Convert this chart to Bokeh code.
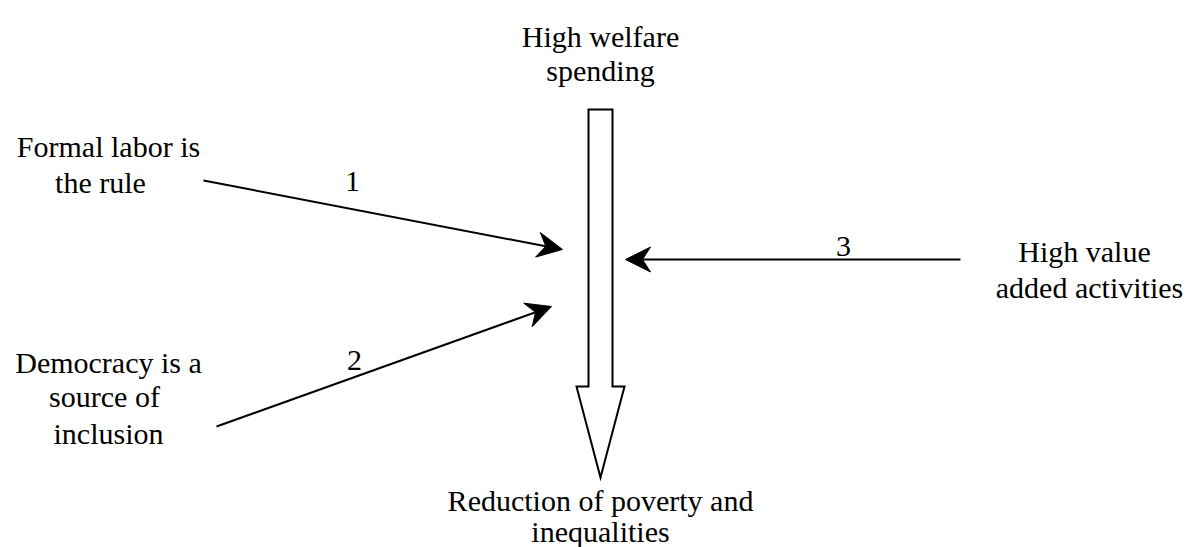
import math
from bokeh.plotting import figure
from bokeh.models import Range1d
from bokeh.core.properties import value
from bokeh.embed import file_html
from bokeh.resources import INLINE

# ---- content ----
node_lines = [
    "High welfare", "spending",
    "Formal labor is", "the rule",
    "Democracy is a", "source of", "inclusion",
    "High value", "added activities",
    "Reduction of poverty and", "inequalities",
]
arrow_labels = ["1", "2", "3"]

# ---- layout (page pixel coordinates) ----
node_x = [600, 600, 108, 100, 108, 104, 108, 1084, 1089, 600, 600]
node_y = [36, 70, 146, 182, 362, 396, 433, 251, 287, 500, 531]
label_x = [352, 354, 843]
label_y = [181, 360, 246]
arrow_start_x = [203, 216, 960]
arrow_start_y = [180, 426, 259]
arrow_end_x = [562, 551, 625]
arrow_end_y = [249, 306, 259]
# big hollow arrow outline
big_x = [588, 612, 612, 624, 600, 576, 588, 588]
big_y = [109, 109, 386, 386, 477, 386, 386, 109]

W, H = 1187, 547
p = figure(width=W, height=H, output_backend="svg", toolbar_location=None,
           x_range=Range1d(0, W), y_range=Range1d(H, 0),
           min_border=0, outline_line_color=None)
p.axis.visible = False
p.grid.visible = False
p.background_fill_color = "white"

p.patch(big_x, big_y, fill_color="white", line_color="black", line_width=2,
        line_join="miter")

# arrow shafts and filled notched heads
HEAD_L, HEAD_W, NOTCH = 25, 12.5, 17
line_xs, line_ys, head_xs, head_ys = [], [], [], []
for sx, sy, ex, ey in zip(arrow_start_x, arrow_start_y, arrow_end_x, arrow_end_y):
    dx, dy = ex - sx, ey - sy
    L = math.hypot(dx, dy)
    ux, uy = dx / L, dy / L
    nx, ny = -uy, ux
    bx, by = ex - ux * HEAD_L, ey - uy * HEAD_L
    mx, my = ex - ux * NOTCH, ey - uy * NOTCH
    line_xs.append([sx, mx])
    line_ys.append([sy, my])
    head_xs.append([ex, bx + nx * HEAD_W, mx, bx - nx * HEAD_W])
    head_ys.append([ey, by + ny * HEAD_W, my, by - ny * HEAD_W])

p.multi_line(line_xs, line_ys, line_color="black", line_width=2)
p.patches(head_xs, head_ys, fill_color="black", line_color="black", line_width=1)

font = value("Liberation Serif")
p.text(x=node_x, y=node_y, text=node_lines, text_font=font, text_font_size="30px",
       text_align="center", text_baseline="alphabetic", text_color="black")
p.text(x=label_x, y=label_y, text=arrow_labels, text_font=font, text_font_size="30px",
       text_align="center", text_baseline="alphabetic", text_color="black")

open("out.html", "w").write(file_html(p, INLINE))
